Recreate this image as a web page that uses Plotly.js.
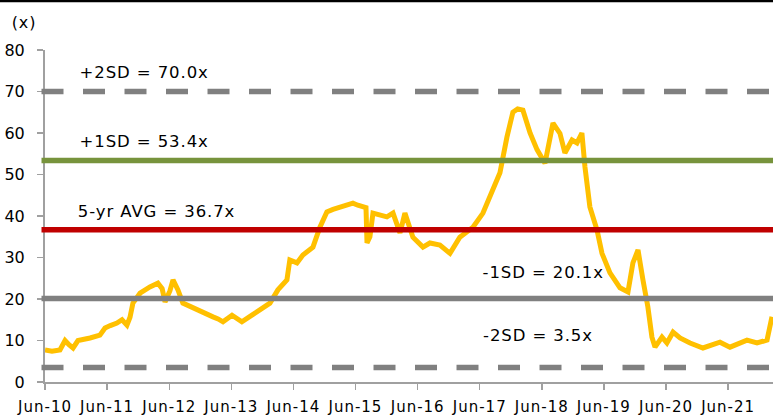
<!DOCTYPE html>
<html><head><meta charset="utf-8">
<script src="https://cdn.plot.ly/plotly-3.0.1.min.js"></script>
<style>
html,body{margin:0;padding:0;background:#fff;overflow:hidden;}
#chart .xtick text{letter-spacing:1px;}
#chart .annotation-text{letter-spacing:0.9px;}
</style>
</head><body><div id="chart" style="width:773px;height:417px;"></div>
<script>
// P/E multiple series (x)
const dates = [
 '2010-06-01','2010-07-12','2010-08-28','2010-09-27','2010-10-20','2010-11-13','2010-12-12',
 '2011-01-20','2011-02-21','2011-04-20','2011-05-20','2011-06-20','2011-07-29','2011-08-28','2011-09-26','2011-10-14',
 '2011-10-31','2011-12-12','2012-01-10','2012-02-08','2012-03-26','2012-04-20','2012-05-07','2012-06-05','2012-06-23',
 '2012-07-22','2012-08-20','2012-09-20','2012-10-18','2012-11-15','2012-12-16','2013-01-15','2013-02-13','2013-03-15','2013-04-13','2013-06-05',
 '2013-07-05','2013-08-02','2013-09-30','2013-11-16','2013-12-15','2014-01-14','2014-03-02','2014-04-24','2014-05-11',
 '2014-06-22','2014-07-27','2014-09-24','2014-11-04','2014-12-15','2015-01-20','2015-03-02','2015-04-10','2015-05-17',
 '2015-06-15','2015-07-15','2015-08-02','2015-08-08','2015-08-25','2015-09-12','2015-10-20','2015-12-03','2016-01-08',
 '2016-02-18','2016-03-18','2016-05-04','2016-07-02','2016-08-12','2016-10-10','2016-12-08',
 '2017-02-04','2017-04-22','2017-06-20','2017-08-12','2017-09-28','2017-11-08','2017-12-13',
 '2018-01-10','2018-02-10','2018-03-24','2018-05-04','2018-06-20','2018-08-06','2018-09-16','2018-10-15',
 '2018-11-26','2018-12-25','2019-01-23','2019-02-10','2019-03-11','2019-04-22','2019-05-21',
 '2019-07-07','2019-09-04','2019-10-21','2019-11-19','2019-12-19','2020-01-17','2020-02-15',
 '2020-03-10','2020-03-28','2020-05-08','2020-06-06','2020-07-12','2020-08-22','2020-10-20',
 '2021-01-04','2021-04-14','2021-06-12','2021-09-20','2021-11-18','2022-01-16','2022-02-14'
];
const peValues = [
 7.7,7.4,7.7,10.0,9.0,8.2,10.0,
 10.2,10.6,11.3,13.0,13.6,14.2,15.0,13.7,15.6,
 19.0,21.4,22.3,22.9,23.8,22.5,19.3,22.0,24.6,
 22.2,19.0,18.4,17.8,17.2,16.9,16.0,15.7,15.2,14.5,16.1,
 15.4,14.5,16.1,17.3,18.0,19.0,22.2,24.6,29.4,
 28.7,30.6,32.5,37.3,41.0,41.6,42.2,42.6,43.1,
 42.6,42.2,42.0,33.5,35.0,40.7,40.2,39.8,40.7,
 35.9,40.7,34.9,32.5,33.5,33.0,31.0,
 34.9,37.3,40.7,45.5,50.4,59.0,65.0,
 65.8,65.5,60.0,56.0,52.7,62.4,59.9,55.2,
 58.3,57.6,60.0,51.8,42.2,36.6,31.0,
 26.3,22.7,21.7,28.7,31.8,24.6,18.1,
 10.8,8.4,10.8,9.4,12.0,10.6,9.4,
 8.2,9.6,8.4,10.1,9.4,10.1,15.7
];
const bandLevels = [70.0, 53.4, 36.7, 20.1, 3.5];
const bandLabels = ['+2SD = 70.0x', '+1SD = 53.4x', '5-yr AVG = 36.7x', '-1SD = 20.1x', '-2SD = 3.5x'];
const tickDates = ['2010-06-01','2011-06-01','2012-06-01','2013-06-01','2014-06-01','2015-06-01',
 '2016-06-01','2017-06-01','2018-06-01','2019-06-01','2020-06-01','2021-06-01'];
const tickLabels = ['Jun-10','Jun-11','Jun-12','Jun-13','Jun-14','Jun-15',
 'Jun-16','Jun-17','Jun-18','Jun-19','Jun-20','Jun-21'];

// styles
const bandStyles = [
 {color:'#808080', dash:'22px,19.5px', lx:0.052, ly:74.5},
 {color:'#77933C', dash:'solid', lx:0.052, ly:58.0},
 {color:'#C00000', dash:'solid', lx:0.052, ly:41.0},
 {color:'#808080', dash:'solid', lx:0.606, ly:26.3},
 {color:'#808080', dash:'22px,19.5px', lx:0.606, ly:11.1}
];
const FONT = 'DejaVu Sans, Verdana, sans-serif';

const shapes = bandLevels.map((v,i)=>({
  type:'line', xref:'paper', yref:'y', x0:-0.0048, x1:1, y0:v, y1:v,
  line:{color:bandStyles[i].color, width:5.5, dash:bandStyles[i].dash}, layer:'above'
}));
shapes.push({type:'line', xref:'paper', yref:'paper', x0:-0.08, x1:1.02, y0:1.1476, y1:1.1476,
  line:{color:'#000', width:2.5}});

const annotations = bandLabels.map((t,i)=>({
  text:t, xref:'paper', yref:'y', x:bandStyles[i].lx, y:bandStyles[i].ly,
  xanchor:'left', yanchor:'middle', showarrow:false,
  font:{family:FONT, size:16.5, color:'#000'}
}));
annotations.push({text:'(x)', xref:'paper', yref:'paper', x:-0.047, y:1.082,
  xanchor:'left', yanchor:'middle', showarrow:false, font:{family:FONT, size:16, color:'#000'}});

const data = [{
  type:'scatter', mode:'lines', x:dates, y:peValues,
  line:{color:'#FFC000', width:5}, hoverinfo:'skip'
}];

const layout = {
  width:773, height:417,
  margin:{l:45, r:0, t:50, b:35, pad:0},
  paper_bgcolor:'#fff', plot_bgcolor:'#fff',
  showlegend:false,
  font:{family:FONT, color:'#000'},
  xaxis:{type:'date', range:['2010-06-01','2022-02-20'], tickmode:'array',
    tickvals:tickDates, ticktext:tickLabels, ticks:'outside', ticklen:6, tickwidth:1.5,
    tickcolor:'#a0a0a0', showline:true, linecolor:'#a0a0a0', linewidth:2,
    showgrid:false, zeroline:false, tickfont:{family:FONT, size:15, color:'#000'},
    ticklabelstandoff:4},
  yaxis:{range:[0,80], dtick:10, tick0:0, ticks:'outside', ticklen:6, tickwidth:1.5,
    tickcolor:'#a0a0a0', showline:true, linecolor:'#a0a0a0', linewidth:2,
    showgrid:false, zeroline:false, tickfont:{family:FONT, size:16, color:'#000'},
    ticklabelstandoff:9},
  shapes:shapes, annotations:annotations
};
Plotly.newPlot('chart', data, layout, {staticPlot:true, displayModeBar:false});
</script>
</body></html>
